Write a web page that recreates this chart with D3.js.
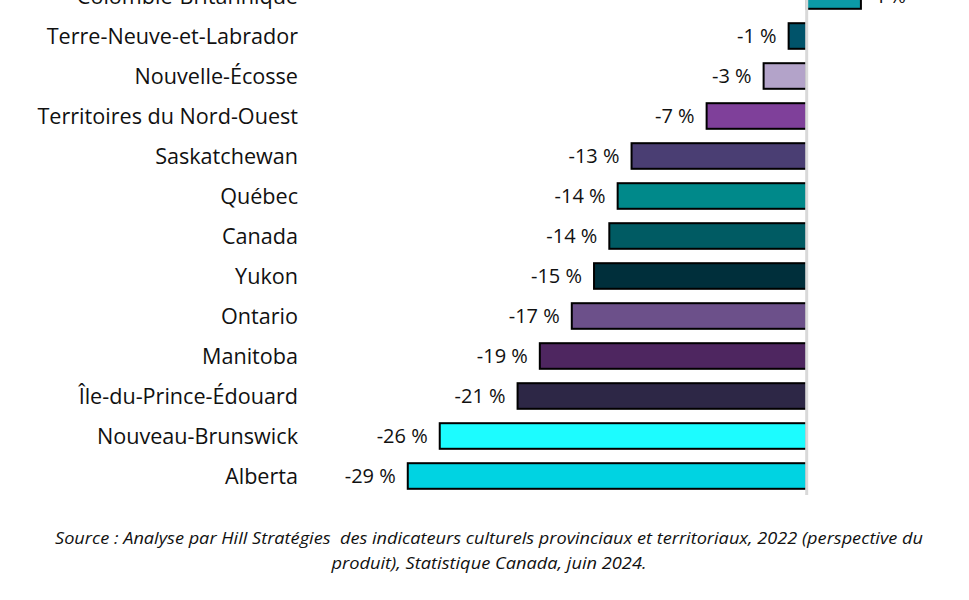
<!DOCTYPE html>
<html>
<head>
<meta charset="utf-8">
<script src="https://cdn.jsdelivr.net/npm/d3@7"></script>
<style>
  body { margin: 0; background: #fff; }
  svg { display: block; }
</style>
</head>
<body>
<div id="chart"></div>
<script>
// provinces, sorted as in the picture (top to bottom)
const regions = [
  'Colombie-Britannique', 'Terre-Neuve-et-Labrador', 'Nouvelle-Écosse',
  'Territoires du Nord-Ouest', 'Saskatchewan', 'Québec', 'Canada', 'Yukon',
  'Ontario', 'Manitoba', 'Île-du-Prince-Édouard', 'Nouveau-Brunswick', 'Alberta'
];
// variation in %
const changes = [3.9, -1.3, -3.1, -7.2, -12.6, -13.6, -14.2, -15.3, -16.9, -19.2, -20.8, -26.4, -28.7];
const barColors = [
  '#0b9aa6', '#00536a', '#b3a3c9', '#7f409a', '#4a3e73', '#00898a', '#005b63',
  '#002f3b', '#6c508a', '#4e2660', '#2d2746', '#1cfcff', '#00d3e2'
];
const sourceLines = [
  'Source : Analyse par Hill Stratégies  des indicateurs culturels provinciaux et territoriaux, 2022 (perspective du',
  'produit), Statistique Canada, juin 2024.'
];
const sourceWidths = [868, 315];

const width = 969, height = 600;
const data = regions.map((name, i) => ({name, value: changes[i], color: barColors[i]}));

const svg = d3.select('#chart')
  .append('svg')
  .attr('width', width)
  .attr('height', height);

const x = d3.scaleLinear()
  .domain([-30, 5])
  .range([389.7, 876.2]);

const y = d3.scaleBand()
  .domain(regions)
  .range([-24, 496])
  .paddingInner(0.36)
  .paddingOuter(0.18);

// barres
svg.append('g')
  .selectAll('rect')
  .data(data)
  .join('rect')
  .attr('x', d => x(Math.min(0, d.value)))
  .attr('y', d => y(d.name))
  .attr('width', d => Math.abs(x(d.value) - x(0)))
  .attr('height', y.bandwidth())
  .attr('fill', d => d.color)
  .attr('stroke', '#000')
  .attr('stroke-width', 2);

// ligne du zéro
svg.append('line')
  .attr('x1', x(0)).attr('x2', x(0))
  .attr('y1', 0).attr('y2', 495)
  .attr('stroke', '#d9d9d9')
  .attr('stroke-width', 3);

// noms des provinces
svg.append('g')
  .selectAll('text')
  .data(data)
  .join('text')
  .attr('x', 298)
  .attr('y', d => y(d.name) + y.bandwidth() / 2)
  .attr('dy', '0.35em')
  .attr('text-anchor', 'end')
  .style('font-family', '"Open Sans", sans-serif')
  .style('font-size', '21.6px')
  .style('fill', '#111')
  .text(d => d.name);

// étiquettes de valeur
svg.append('g')
  .selectAll('text')
  .data(data)
  .join('text')
  .attr('x', d => d.value < 0 ? x(d.value) - 12 : x(d.value) + 12)
  .attr('y', d => y(d.name) + y.bandwidth() / 2)
  .attr('dy', '0.36em')
  .attr('text-anchor', d => d.value < 0 ? 'end' : 'start')
  .style('font-family', '"Open Sans", sans-serif')
  .style('font-size', '20px')
  .style('fill', '#111')
  .text(d => `${Math.round(d.value)} %`);

// source
svg.append('g')
  .selectAll('text')
  .data(sourceLines)
  .join('text')
  .attr('x', 489)
  .attr('y', (d, i) => 544 + i * 25)
  .attr('text-anchor', 'middle')
  .attr('textLength', (d, i) => sourceWidths[i])
  .attr('lengthAdjust', 'spacingAndGlyphs')
  .style('white-space', 'pre')
  .style('font-family', '"Open Sans", sans-serif')
  .style('font-style', 'italic')
  .style('font-size', '16.5px')
  .style('fill', '#111')
  .text(d => d);
</script>
</body>
</html>
